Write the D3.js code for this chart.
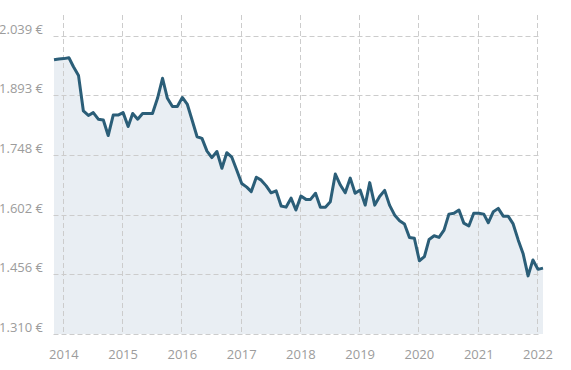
<!DOCTYPE html>
<html lang="en">
<head>
    <meta charset="UTF-8">
    <script src="https://d3js.org/d3.v7.min.js"></script>
    <style>
        body { margin: 0; background: #fff; }
        svg text {
            font-family: "Open Sans", sans-serif;
            font-size: 13px;
            fill: #9c9c9c;
        }
        .grid line {
            stroke: #ccc;
            stroke-width: 1;
            stroke-dasharray: 5 3;
        }
    </style>
    <title>d3</title>
</head>
<body>
    <svg width="571" height="370"></svg>
    <script>
        // monthly price (€/m2), Nov 2013 - Feb 2022
        const startMonth = new Date(2013, 10, 1);
        const prices = [
            1980, 1982, 1983, 1985, 1963, 1942, 1855, 1844, 1851, 1835,
            1833, 1795, 1845, 1845, 1851, 1817, 1849, 1835, 1849, 1849,
            1849, 1886, 1935, 1886, 1866, 1866, 1888, 1871, 1833, 1792,
            1788, 1757, 1741, 1756, 1715, 1753, 1742, 1711, 1678, 1669,
            1658, 1693, 1686, 1672, 1655, 1660, 1623, 1620, 1642, 1613,
            1647, 1639, 1639, 1654, 1620, 1620, 1633, 1701, 1674, 1655,
            1691, 1654, 1662, 1625, 1680, 1625, 1646, 1661, 1625, 1601,
            1587, 1579, 1546, 1544, 1489, 1499, 1541, 1550, 1546, 1564,
            1603, 1605, 1613, 1581, 1574, 1605, 1605, 1603, 1582, 1609,
            1617, 1598, 1598, 1579, 1540, 1507, 1452, 1491, 1468, 1471
        ];
        const yTicks = [1310, 1456, 1602, 1748, 1893, 2039];
        const xTicks = [2014, 2015, 2016, 2017, 2018, 2019, 2020, 2021, 2022];

        const data = prices.map((v, i) => ({
            date: new Date(startMonth.getFullYear(), startMonth.getMonth() + i, 1),
            value: v
        }));

        const svg = d3.select('svg');
        const plotTop = 15, plotBottom = 334, plotLeft = 54, plotRight = 543, gridRight = 539.5;

        const x = d3.scaleTime()
            .domain(d3.extent(data, d => d.date))
            .range([plotLeft, plotRight]);
        const y = d3.scaleLinear()
            .domain([1310, 2039])
            .range([plotBottom, 35.7]);

        const fmt = v => d3.format(',')(v).replace(/,/g, '.') + ' €';

        // area under the line
        svg.append('path')
            .datum(data)
            .attr('fill', '#e9eef3')
            .attr('d', d3.area()
                .x(d => x(d.date))
                .y0(plotBottom)
                .y1(d => y(d.value)));

        // grid
        const grid = svg.append('g').attr('class', 'grid');
        grid.selectAll('.h')
            .data(yTicks)
            .enter()
            .append('line')
            .attr('x1', plotLeft - 0.5)
            .attr('x2', gridRight)
            .attr('y1', d => Math.round(y(d)) + 0.5)
            .attr('y2', d => Math.round(y(d)) + 0.5);
        grid.selectAll('.v')
            .data(xTicks)
            .enter()
            .append('line')
            .attr('x1', d => Math.round(x(new Date(d, 0, 1))) - 0.5)
            .attr('x2', d => Math.round(x(new Date(d, 0, 1))) - 0.5)
            .attr('y1', plotTop)
            .attr('y2', plotBottom);

        // y labels
        svg.append('g')
            .selectAll('text')
            .data(yTicks)
            .enter()
            .append('text')
            .attr('x', 43)
            .attr('y', d => y(d) - 2)
            .attr('text-anchor', 'end')
            .text(fmt);

        // x labels
        svg.append('g')
            .selectAll('text')
            .data(xTicks)
            .enter()
            .append('text')
            .attr('x', d => x(new Date(d, 0, 1)))
            .attr('y', 359)
            .attr('text-anchor', 'middle')
            .text(d => d);

        // line
        svg.append('path')
            .datum(data)
            .attr('fill', 'none')
            .attr('stroke', '#2b5e78')
            .attr('stroke-width', 3)
            .attr('stroke-linejoin', 'round')
            .attr('d', d3.line()
                .x(d => x(d.date))
                .y(d => y(d.value)));
    </script>
</body>
</html>
